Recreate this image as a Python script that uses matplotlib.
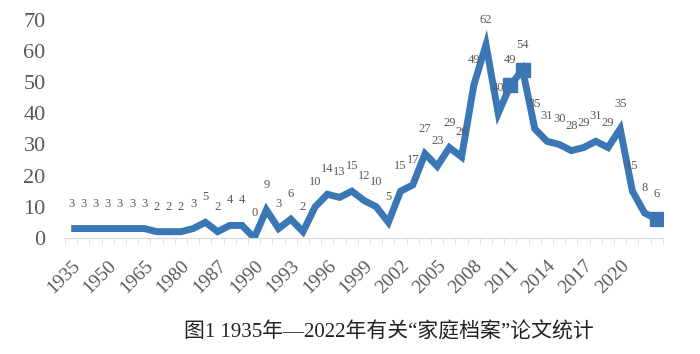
import matplotlib
matplotlib.use('Agg')
import matplotlib.pyplot as plt

plt.rcParams['font.family'] = ['Liberation Serif', 'Noto Sans CJK SC', 'DejaVu Sans']

counts = [3, 3, 3, 3, 3, 3, 3, 2, 2, 2, 3, 5, 2, 4, 4, 0, 9, 3, 6, 2,
          10, 14, 13, 15, 12, 10, 5, 15, 17, 27, 23, 29, 26, 49, 62, 40,
          49, 54, 35, 31, 30, 28, 29, 31, 29, 35, 15, 8, 6]
tick_labels = ['1935', '1950', '1965', '1980', '1987', '1990', '1993', '1996',
               '1999', '2002', '2005', '2008', '2011', '2014', '2017', '2020']
marked = [36, 37, 48]
title = '图1 1935年—2022年有关“家庭档案”论文统计'

blue = '#3A77B4'
grey = '#595959'

fig = plt.figure(figsize=(7, 3.54), dpi=100)
ax = fig.add_axes([0.093, 0.328, 0.854, 0.616])

x = list(range(len(counts)))
ax.plot(x, counts, color=blue, lw=5, solid_joinstyle='miter', solid_capstyle='butt')
ax.plot([x[i] for i in marked], [counts[i] for i in marked], 's', color=blue, ms=10)

for i, v in zip(x, counts):
    ax.annotate(str(v), (i, v), xytext=(0, 18), textcoords='offset points',
                ha='center', va='center', fontsize=9, color=grey)

ax.set_xlim(-0.5, len(counts) - 0.5)
ax.set_ylim(0, 70)
ax.set_yticks(range(0, 71, 10))
ax.tick_params(axis='y', length=0, labelsize=16, labelcolor=grey, pad=14)

ax.set_xticks([i - 0.5 for i in range(len(counts) + 1)], minor=True)
ax.set_xticks(x[::3][:len(tick_labels)])
ax.set_xticklabels(tick_labels, rotation=45, ha='right',
                   rotation_mode='anchor', fontsize=14, color=grey)
ax.tick_params(axis='x', which='major', length=0, pad=14)
ax.tick_params(axis='x', which='minor', length=4, color='#D9D9D9')

for s in ['top', 'right', 'left']:
    ax.spines[s].set_visible(False)
ax.spines['bottom'].set_color('#D9D9D9')

fig.text(0.555, 0.06, title, ha='center', va='center', fontsize=15, color='#222222')

fig.savefig('out.png', dpi=100)
